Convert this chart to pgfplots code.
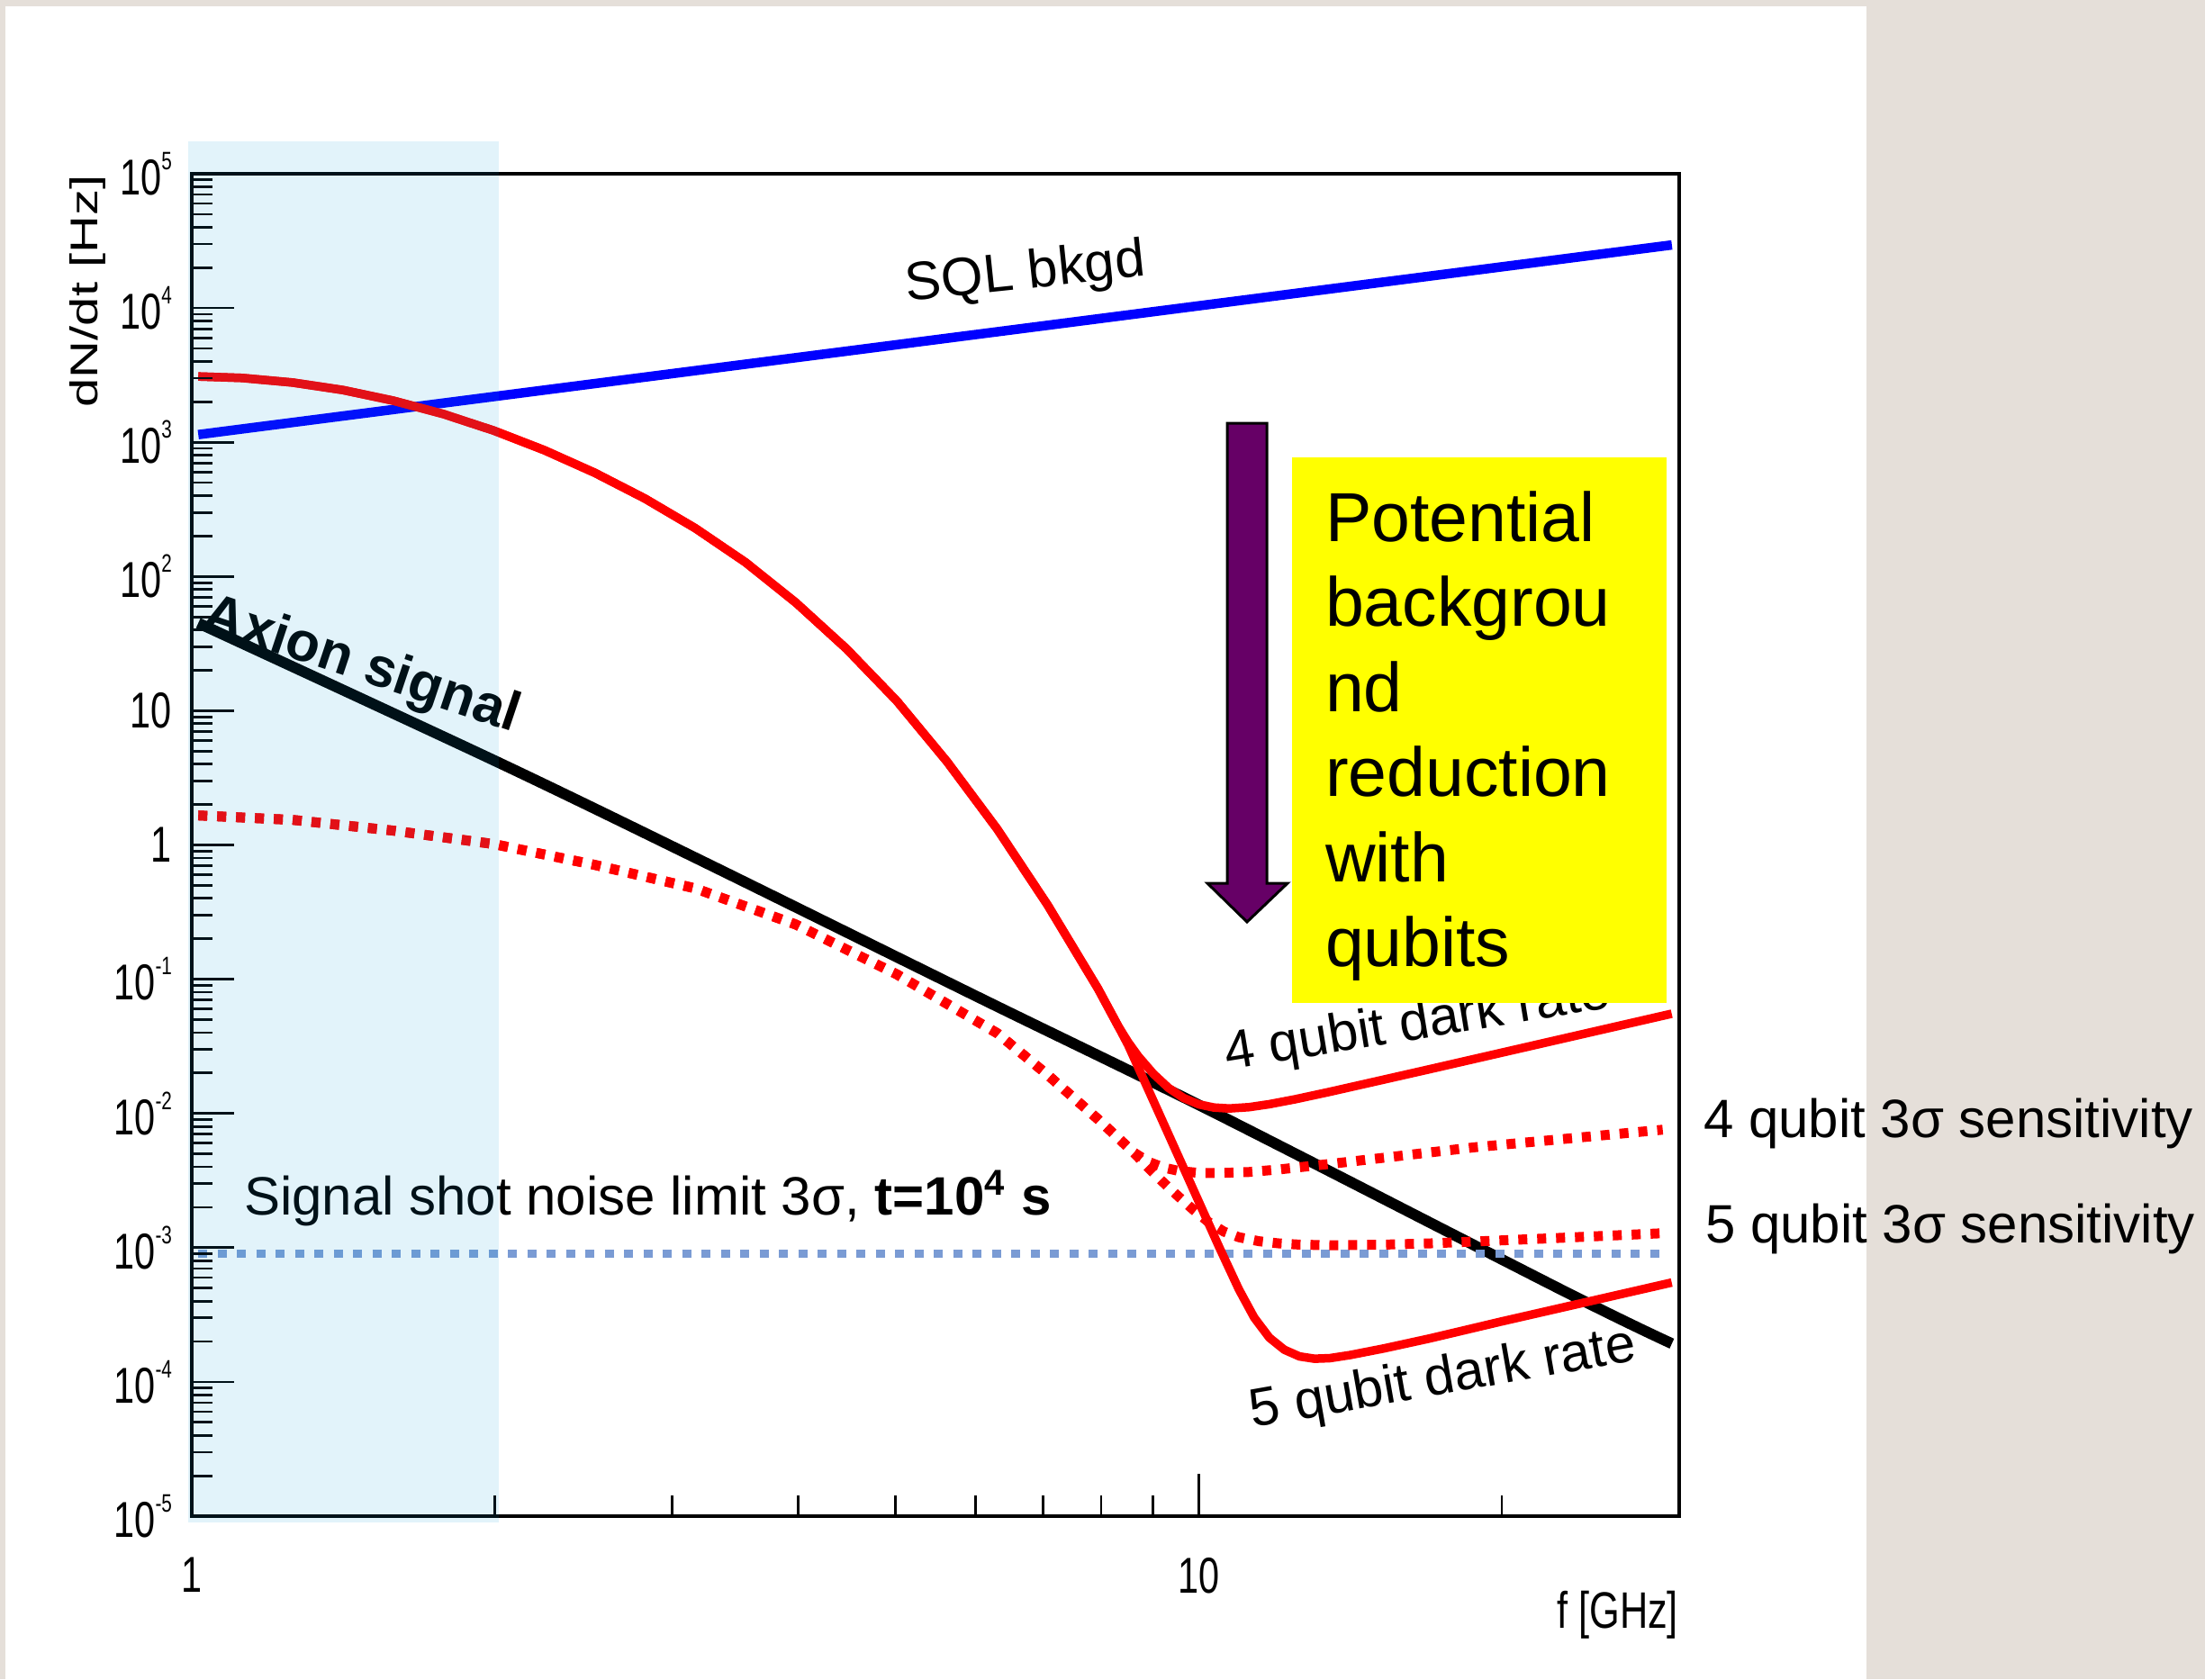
\documentclass[border=0pt]{standalone}
\usepackage{pgfplots}
\pgfplotsset{compat=1.18}
\usepackage{graphicx}
\usepackage{fontspec}
\setmainfont{Liberation Sans}

\definecolor{pagebeige}{RGB}{229,223,217}
\definecolor{bandcyan}{RGB}{0,158,219}
\definecolor{shotblue}{RGB}{122,155,212}
\definecolor{arrowpurple}{RGB}{102,0,102}
\definecolor{boxyellow}{RGB}{255,255,0}
\definecolor{pureblue}{RGB}{0,0,255}
\definecolor{purered}{RGB}{255,0,0}

% narrow tick-label style
\newcommand\tl[1]{\scalebox{0.74}[1]{#1}}
\newcommand\tp[1]{\tl{10\raisebox{5.6pt}{\fontsize{5.6}{6}\selectfont #1}}}
\newcommand\lab{\fontsize{12}{14}\selectfont}

\begin{document}
\begin{tikzpicture}
% page and panel
\fill[pagebeige] (-42.6pt,-36.2pt) rectangle (447.2pt,336.8pt);
\path[use as bounding box] (-42.6pt,-36.2pt) rectangle (447.2pt,336.8pt);
\fill[white] (-41.4pt,-36.2pt) rectangle (372.0pt,335.4pt);

\begin{axis}[
  at={(0pt,0pt)}, anchor=south west,
  scale only axis, width=330.4pt, height=298.2pt,
  xmode=log, ymode=log,
  xmin=1, xmax=30, ymin=1e-5, ymax=1e5,
  axis on top, clip=false,
  axis line style={line width=0.65pt},
  tick style={black, line width=0.55pt},
  tick align=inside, tick pos=left,
  major tick length=9.4pt, minor tick length=4.6pt,
  xtick={1,10}, xticklabels={\tl{1},\tl{10}},
  minor xtick={2,3,4,5,6,7,8,9,20,30},
  ytick={1e-5,1e-4,1e-3,1e-2,1e-1,1,10,100,1e3,1e4,1e5},
  yticklabels={\tp{-5},\tp{-4},\tp{-3},\tp{-2},\tp{-1},\tl{1},\tl{10},\tp{2},\tp{3},\tp{4},\tp{5}},
  minor ytick={2e-5,3e-5,4e-5,5e-5,6e-5,7e-5,8e-5,9e-5,
    2e-4,3e-4,4e-4,5e-4,6e-4,7e-4,8e-4,9e-4,
    2e-3,3e-3,4e-3,5e-3,6e-3,7e-3,8e-3,9e-3,
    2e-2,3e-2,4e-2,5e-2,6e-2,7e-2,8e-2,9e-2,
    0.2,0.3,0.4,0.5,0.6,0.7,0.8,0.9,
    2,3,4,5,6,7,8,9,
    20,30,40,50,60,70,80,90,
    200,300,400,500,600,700,800,900,
    2000,3000,4000,5000,6000,7000,8000,9000,
    2e4,3e4,4e4,5e4,6e4,7e4,8e4,9e4},
  xticklabel style={font=\fontsize{11.2}{13}\selectfont, anchor=north, inner sep=0pt, yshift=-9pt},
  yticklabel style={font=\fontsize{11.2}{13}\selectfont, anchor=east, inner sep=0pt, xshift=-4.2pt},
  every axis plot/.append style={line join=round},
]
% axion signal
\addplot[draw=black, line width=2.4pt, smooth, tension=0.5] coordinates {
  (1.015,45) (2.023,4.07) (3.249,0.728) (6.087,0.0714) (10.4,0.0100)
  (23.37,4.51e-4) (29.5,1.93e-4)};
% signal shot noise limit
\addplot[draw=shotblue, line width=1.9pt, dash pattern=on 2pt off 2.3pt] coordinates {
  (1.015,9e-4) (29.3,9e-4)};
% SQL background
\addplot[draw=pureblue, line width=2.1pt] coordinates {(1.015,1140) (29.5,29500)};
% 4 qubit 3 sigma sensitivity
\addplot[draw=purered, line width=2.2pt, dash pattern=on 2pt off 2.2pt] coordinates {
  (1.015,1.660) (1.259,1.538) (1.585,1.279) (1.995,1.016) (2.512,0.711)
  (2.818,0.5814) (3.162,0.475) (3.548,0.3483) (3.981,0.2553) (4.467,0.1667)
  (5.012,0.1089) (5.623,0.0656) (6.310,0.03954) (7.079,0.01936) (7.943,9.06e-3)
  (8.610,5.15e-3) (8.913,4.365e-3) (9.226,3.954e-3) (9.550,3.733e-3)
  (10.0,3.606e-3) (10.59,3.606e-3) (11.22,3.664e-3) (12.02,3.828e-3)
  (13.80,4.285e-3) (18.79,5.598e-3) (28.89,7.568e-3)};
% 5 qubit 3 sigma sensitivity
\addplot[draw=purered, line width=2.2pt, dash pattern=on 2pt off 2.2pt] coordinates {
  (1.015,1.660) (1.259,1.538) (1.585,1.279) (1.995,1.016) (2.512,0.711)
  (2.818,0.5814) (3.162,0.475) (3.548,0.3483) (3.981,0.2553) (4.467,0.1667)
  (5.012,0.1089) (5.623,0.0656) (6.310,0.03954) (7.079,0.01936) (7.943,9.06e-3)
  (8.610,5.15e-3) (8.913,3.936e-3) (9.226,3.055e-3) (9.550,2.399e-3)
  (9.886,1.905e-3) (10.23,1.549e-3) (10.59,1.318e-3) (10.96,1.197e-3)
  (11.48,1.117e-3) (12.02,1.076e-3) (12.59,1.054e-3) (13.49,1.042e-3)
  (15.14,1.052e-3) (16.94,1.076e-3) (22.39,1.175e-3) (28.89,1.282e-3)};
% 4 qubit dark rate
\addplot[draw=purered, line width=1.9pt] coordinates {
  (1.015,3090) (1.122,3013) (1.259,2786) (1.413,2449) (1.585,2042) (1.778,1622)
  (1.995,1222) (2.239,873) (2.512,593) (2.818,381) (3.162,229) (3.548,127.4)
  (3.981,63.8) (4.467,29.0) (5.012,11.86) (5.623,4.18) (6.310,1.309)
  (7.079,0.3565) (7.943,0.0851) (8.318,0.04467)
  (8.511,0.03388) (8.710,0.02661) (9.016,0.01972) (9.333,0.01549) (9.661,0.01303)
  (10.0,0.01169) (10.35,0.01107) (10.72,0.01089) (11.22,0.01114) (11.75,0.01172)
  (12.47,0.01276) (13.49,0.01449) (15.14,0.01762) (16.94,0.02133) (19.95,0.02825)
  (29.49,0.05534)};
% 5 qubit dark rate
\addplot[draw=purered, line width=1.9pt] coordinates {
  (1.015,3090) (1.122,3013) (1.259,2786) (1.413,2449) (1.585,2042) (1.778,1622)
  (1.995,1222) (2.239,873) (2.512,593) (2.818,381) (3.162,229) (3.548,127.4)
  (3.981,63.8) (4.467,29.0) (5.012,11.86) (5.623,4.18) (6.310,1.309)
  (7.079,0.3565) (7.943,0.0851) (8.318,0.04467)
  (8.511,0.03221) (9.120,0.01023) (9.772,3.236e-3) (10.47,1.023e-3)
  (10.96,4.898e-4) (11.35,3.020e-4) (11.75,2.138e-4) (12.16,1.738e-4)
  (12.59,1.549e-4) (13.03,1.489e-4) (13.49,1.503e-4) (14.13,1.585e-4)
  (15.28,1.778e-4) (16.98,2.113e-4) (19.95,2.812e-4) (29.49,5.50e-4)};
\end{axis}

% axis titles
\node[rotate=90, inner sep=0pt, font=\fontsize{11.6}{13}\selectfont] at (-23.2pt,272.1pt)
  {\scalebox{1}[0.74]{dN/dt [Hz]}};
\node[anchor=base east, inner sep=0pt, font=\fontsize{11.4}{13}\selectfont] at (330.4pt,-24.8pt)
  {\scalebox{0.76}[1]{f [GHz]}};

% curve labels
\node[anchor=base west, inner sep=0pt, rotate=-18.5, font=\fontsize{12.3}{14}\selectfont\bfseries]
  at (1.8pt,197.4pt) {Axion signal};
\node[inner sep=0pt, rotate=6, font=\lab] at (185.2pt,275.8pt) {SQL bkgd};
\node[anchor=base west, inner sep=0pt, rotate=9.3, font=\lab] at (229.8pt,99.0pt) {4 qubit dark rate};
\node[anchor=base west, inner sep=0pt, rotate=10, font=\lab] at (235.6pt,19.6pt) {5 qubit dark rate};
\node[anchor=base west, inner sep=0pt, font=\lab] at (11.4pt,67.0pt)
  {Signal shot noise limit 3σ, \textbf{t=10\textsuperscript{4} s}};
\node[anchor=base west, inner sep=0pt, font=\lab] at (335.6pt,84.2pt) {4 qubit 3σ sensitivity};
\node[anchor=base west, inner sep=0pt, font=\lab] at (336.0pt,60.8pt) {5 qubit 3σ sensitivity};

% callout box and arrow
\fill[boxyellow] (244.4pt,114.0pt) rectangle (327.6pt,235.2pt);
\foreach \t [count=\i from 0] in {Potential,backgrou,nd,reduction,with,qubits}
  \node[anchor=base west, inner sep=0pt, font=\fontsize{15.4}{18.9}\selectfont]
    at (251.6pt,216.6pt-18.9pt*\i) {\t};
\draw[fill=arrowpurple, line width=0.6pt, line join=miter]
  (230.0pt,242.8pt) -- (238.8pt,242.8pt) -- (238.8pt,140.6pt) -- (243.4pt,140.6pt)
  -- (234.4pt,132.0pt) -- (225.6pt,140.6pt) -- (230.0pt,140.6pt) -- cycle;

% 1-2 GHz band
\fill[bandcyan, fill opacity=0.114] (-0.8pt,-1.4pt) rectangle (68.1pt,305.4pt);
\end{tikzpicture}
\end{document}
